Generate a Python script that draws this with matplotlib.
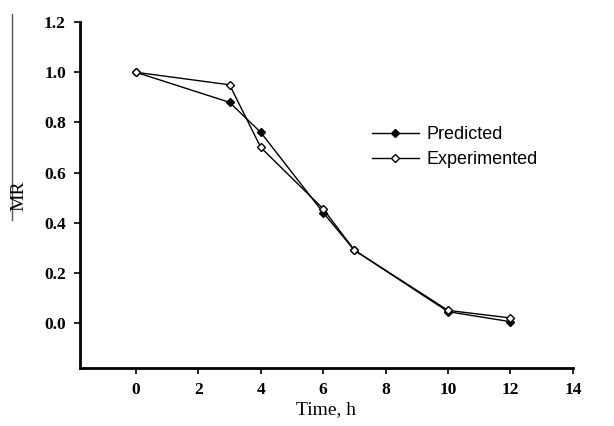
import matplotlib
matplotlib.use("Agg")
import matplotlib.pyplot as plt
from matplotlib.lines import Line2D

# data
time_h = [0, 3, 4, 6, 7, 10, 12]
mr_predicted = [1.0, 0.88, 0.76, 0.44, 0.29, 0.045, 0.005]
mr_experimented = [1.0, 0.95, 0.70, 0.455, 0.29, 0.05, 0.02]

x_ticks = [0, 2, 4, 6, 8, 10, 12, 14]
y_ticks = [0.0, 0.2, 0.4, 0.6, 0.8, 1.0, 1.2]

fig = plt.figure(figsize=(6.14, 4.26), dpi=100)
ax = fig.add_axes([0.130, 0.136, 0.803, 0.812])

ax.plot(time_h, mr_predicted, color='black', lw=1.0, marker='D', ms=4.5,
        mfc='black', mec='black', label='Predicted')
ax.plot(time_h, mr_experimented, color='black', lw=1.0, marker='D', ms=4.5,
        mfc='white', mec='black', label='Experimented')

ax.set_xlim(-1.8, 14)
ax.set_ylim(-0.18, 1.2)
ax.set_xticks(x_ticks)
ax.set_yticks(y_ticks)
ax.set_xticklabels([str(t) for t in x_ticks])
ax.set_yticklabels(['%.1f' % v for v in y_ticks])

for lab in ax.get_xticklabels() + ax.get_yticklabels():
    lab.set_fontfamily('Liberation Serif')
    lab.set_fontweight('bold')
    lab.set_fontsize(12.5)

ax.spines['top'].set_visible(False)
ax.spines['right'].set_visible(False)
ax.spines['left'].set_linewidth(2)
ax.spines['bottom'].set_linewidth(2)
ax.tick_params(direction='out', length=4, width=1.2, pad=6)

ax.set_xlabel('Time, h', family='Liberation Serif', fontsize=14, labelpad=2)
fig.text(0.030, 0.54, 'MR', rotation=90, family='Liberation Serif',
         fontsize=14, ha='center', va='center')
# the bar over "MR"
fig.add_artist(Line2D([0.020, 0.020], [0.484, 0.967], transform=fig.transFigure,
                      color='#555555', lw=1.0))

ax.legend(loc='upper left', bbox_to_anchor=(0.574, 0.725), frameon=False,
          prop={'family': 'Liberation Sans', 'size': 13}, handlelength=2.6,
          handletextpad=0.45, labelspacing=0.45, borderpad=0)

fig.savefig('out.png', dpi=100)
